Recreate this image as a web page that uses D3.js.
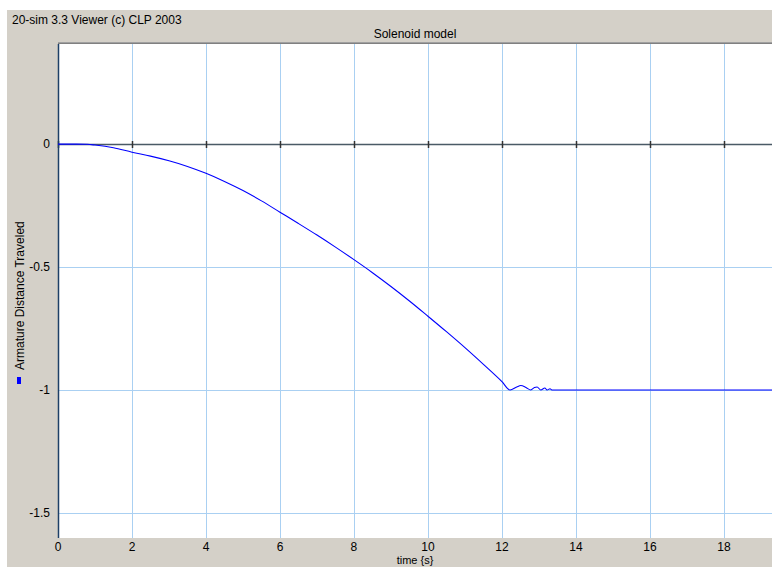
<!DOCTYPE html>
<html><head><meta charset="utf-8">
<script src="https://cdn.jsdelivr.net/npm/d3@7"></script>
<style>body{margin:0;background:#fff}text{font-family:"Liberation Sans",Arial,sans-serif}</style>
</head><body>
<svg id="c" width="772" height="567"></svg>
<script>
const xTicks = [0,2,4,6,8,10,12,14,16,18];
const yTicks = [0,-0.5,-1,-1.5];
const yTickLabels = ["0","-0.5","-1","-1.5"];
const timeVals = [0,0.5,0.8,1,1.5,2,2.5,3,3.5,4,4.5,5,5.5,6,6.5,7,7.5,8,8.5,9,9.5,10,10.5,11,11.5,12,12.22,12.4,12.51,12.65,12.78,12.88,12.95,13.05,13.16,13.22,13.3,13.35,14,16,18,19.4];
const distVals = [0,0,-0.001,-0.004,-0.015,-0.033,-0.049,-0.068,-0.091,-0.119,-0.152,-0.189,-0.231,-0.277,-0.323,-0.370,-0.419,-0.470,-0.523,-0.579,-0.638,-0.700,-0.763,-0.828,-0.896,-0.966,-1.0,-0.988,-0.982,-0.99,-1.0,-0.99,-0.988,-1.0,-0.992,-1.0,-0.995,-1.0,-1.0,-1.0,-1.0,-1.0];
const title = "Solenoid model";
const header = "20-sim 3.3 Viewer (c) CLP 2003";
const yLabel = "Armature Distance Traveled";
const xLabel = "time {s}";

const svg = d3.select("#c");
const L=58, T=44, R=772, B=538;
svg.append("rect").attr("x",7).attr("y",10).attr("width",765).attr("height",557).attr("fill","#d4d0c8");
svg.append("rect").attr("x",L).attr("y",T).attr("width",R-L).attr("height",B-T).attr("fill","#fff");

const x = d3.scaleLinear().domain([0,19.3]).range([L,R]);
const y = d3.scaleLinear().domain([0.407,-1.602]).range([T,B]);

// grid
svg.append("g").selectAll("line").data(xTicks.slice(1)).join("line")
  .attr("x1",d=>Math.round(x(d))+0.5).attr("x2",d=>Math.round(x(d))+0.5).attr("y1",T).attr("y2",B)
  .attr("stroke","#aad0f2").attr("stroke-width",1);
svg.append("g").selectAll("line").data(yTicks.slice(1)).join("line")
  .attr("x1",L).attr("x2",R).attr("y1",d=>Math.round(y(d))+0.5).attr("y2",d=>Math.round(y(d))+0.5)
  .attr("stroke","#aad0f2").attr("stroke-width",1);

// top border
svg.append("line").attr("x1",L).attr("x2",R).attr("y1",T-0.5).attr("y2",T-0.5).attr("stroke","#808080").attr("stroke-width",1);
svg.append("line").attr("x1",L).attr("x2",R).attr("y1",T-1.5).attr("y2",T-1.5).attr("stroke","#a0a0a0").attr("stroke-width",1);

// zero axis
const y0 = Math.round(y(0))+0.5;
svg.append("line").attr("x1",L).attr("x2",R).attr("y1",y0).attr("y2",y0).attr("stroke","#4a5a66").attr("stroke-width",1.3);
svg.append("g").selectAll("line").data(xTicks).join("line")
  .attr("x1",d=>Math.round(x(d))+0.5).attr("x2",d=>Math.round(x(d))+0.5).attr("y1",y0-3.5).attr("y2",y0+3.5)
  .attr("stroke","#333").attr("stroke-width",1.5);

// left axis line
svg.append("line").attr("x1",L+0.5).attr("x2",L+0.5).attr("y1",T).attr("y2",B).attr("stroke","#1d3f66").attr("stroke-width",1.5);

// curve
const data = timeVals.map((t,i)=>[t,distVals[i]]);
svg.append("path").datum(data).attr("fill","none").attr("stroke","#0000ff").attr("stroke-width",1.1)
  .attr("d", d3.line().x(d=>x(d[0])).y(d=>y(d[1])).curve(d3.curveMonotoneX));

// tick labels
svg.append("g").selectAll("text").data(xTicks).join("text")
  .attr("x",d=>x(d)).attr("y",551).attr("text-anchor","middle").attr("font-size",12).attr("fill","#000").text(d=>d);
svg.append("g").selectAll("text").data(yTicks).join("text")
  .attr("x",50).attr("y",d=>y(d)+4).attr("text-anchor","end").attr("font-size",12).attr("fill","#000").text((d,i)=>yTickLabels[i]);

svg.append("text").attr("x",415).attr("y",564).attr("text-anchor","middle").attr("font-size",11).text(xLabel);
svg.append("text").attr("x",415).attr("y",38).attr("text-anchor","middle").attr("font-size",12).text(title);
svg.append("text").attr("x",12).attr("y",24).attr("font-size",12).text(header);

// y label + legend marker
svg.append("rect").attr("x",17).attr("y",377).attr("width",4).attr("height",7).attr("fill","#0000ff");
svg.append("text").attr("transform","translate(24,370) rotate(-90)").attr("font-size",12).text(yLabel);
</script>
</body></html>
